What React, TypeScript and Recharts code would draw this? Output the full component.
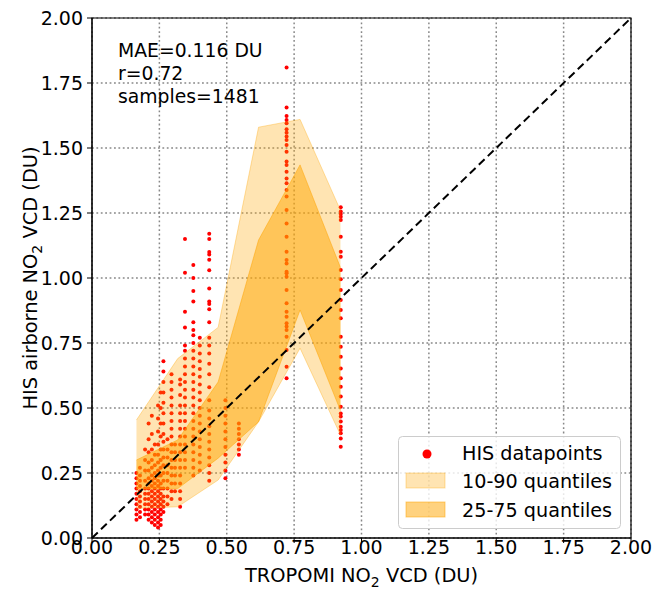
import React from "react";
import {
  ComposedChart,
  Scatter,
  Area,
  XAxis,
  YAxis,
  CartesianGrid,
  ReferenceLine,
  ReferenceArea,
  Label,
} from "recharts";

const FONT = "DejaVu Sans, sans-serif";

const axisTicks = [0, 0.25, 0.5, 0.75, 1, 1.25, 1.5, 1.75, 2];

// quantile bands, x = TROPOMI bin centre
const binX = [0.165, 0.318, 0.468, 0.618, 0.772, 0.922];
const q10 = [0.114, 0.12, 0.223, 0.447, 0.73, 0.396];
const q25 = [0.19, 0.19, 0.307, 0.447, 0.877, 0.49];
const q75 = [0.3, 0.377, 0.6, 1.146, 1.435, 1.04];
const q90 = [0.454, 0.69, 0.81, 1.58, 1.61, 1.26];

// HIS datapoints, grouped by TROPOMI pixel value (columns)
const columnX = [
  0.165, 0.178, 0.197, 0.21, 0.222, 0.233, 0.245, 0.255, 0.265, 0.28, 0.295, 0.308,
  0.327, 0.345, 0.376, 0.4, 0.435, 0.495, 0.545, 0.722, 0.923,
];
const columnY = [
  [0.07, 0.09, 0.11, 0.13, 0.15, 0.17, 0.19, 0.21, 0.23, 0.25],
  [0.08, 0.1, 0.12, 0.14, 0.16, 0.18, 0.2, 0.22, 0.24, 0.27],
  [0.09, 0.11, 0.13, 0.15, 0.17, 0.19, 0.22, 0.26, 0.3, 0.34],
  [0.07, 0.09, 0.11, 0.13, 0.15, 0.17, 0.19, 0.21, 0.23, 0.26, 0.29, 0.33, 0.38, 0.44],
  [0.06, 0.08, 0.1, 0.12, 0.14, 0.16, 0.18, 0.2, 0.22, 0.24, 0.27, 0.3, 0.34, 0.4, 0.47],
  [0.05, 0.07, 0.09, 0.11, 0.13, 0.15, 0.17, 0.19, 0.21, 0.23, 0.25, 0.28, 0.32, 0.36],
  [0.04, 0.06, 0.08, 0.1, 0.12, 0.14, 0.16, 0.18, 0.2, 0.22, 0.24, 0.26, 0.29, 0.32, 0.36, 0.41, 0.46, 0.51],
  [0.05, 0.07, 0.09, 0.11, 0.13, 0.15, 0.17, 0.19, 0.21, 0.24, 0.27, 0.3, 0.34, 0.39, 0.44, 0.5, 0.56],
  [0.1, 0.12, 0.14, 0.16, 0.19, 0.22, 0.25, 0.28, 0.31, 0.34, 0.37, 0.4, 0.44, 0.48, 0.52, 0.56, 0.6, 0.64, 0.68],
  [0.13, 0.16, 0.19, 0.22, 0.25, 0.28, 0.31, 0.34, 0.38],
  [0.15, 0.18, 0.21, 0.24, 0.27, 0.3, 0.33, 0.36, 0.39, 0.42, 0.45, 0.48, 0.51, 0.54, 0.57, 0.6, 0.63],
  [0.18, 0.21, 0.24, 0.27, 0.3, 0.33, 0.36],
  [0.12, 0.15, 0.18, 0.21, 0.24, 0.27, 0.3, 0.33, 0.36, 0.39, 0.42, 0.45, 0.48, 0.51, 0.55, 0.59, 0.61],
  [0.27, 0.3, 0.33, 0.36, 0.39, 0.42, 0.45, 0.48, 0.51, 0.54, 0.57, 0.6, 0.63, 0.66, 0.69, 0.72, 0.74, 0.81, 0.87, 1.02, 1.15],
  [0.24, 0.27, 0.3, 0.33, 0.36, 0.39, 0.42, 0.45, 0.48, 0.51, 0.54, 0.57, 0.6, 0.63, 0.66, 0.69, 0.72, 0.75, 0.78, 0.8, 0.83, 0.91, 0.95, 1.0, 1.05],
  [0.26, 0.29, 0.32, 0.35, 0.38, 0.41, 0.44, 0.47, 0.5, 0.53, 0.56, 0.59, 0.62, 0.65, 0.68, 0.71, 0.74, 0.77],
  [0.22, 0.25, 0.28, 0.31, 0.34, 0.37, 0.4, 0.43, 0.46, 0.49, 0.53, 0.58, 0.63, 0.67, 0.71, 0.74, 0.77, 0.83, 0.88, 0.9, 0.91, 0.96, 1.03, 1.07, 1.09, 1.1, 1.15, 1.17],
  [0.23, 0.26, 0.29, 0.32, 0.35, 0.38, 0.41, 0.44, 0.47, 0.5, 0.53],
  [0.32, 0.34, 0.36, 0.38, 0.4, 0.42, 0.44],
  [0.614, 0.659, 0.723, 0.774, 0.8, 0.813, 0.826, 0.851, 0.87, 0.903, 0.954, 1.005, 1.018, 1.024, 1.056, 1.069, 1.101, 1.159, 1.21, 1.262, 1.313, 1.338, 1.364, 1.383, 1.409, 1.435, 1.448, 1.486, 1.512, 1.531, 1.544, 1.559, 1.572, 1.595, 1.608, 1.623, 1.656, 1.81],
  [0.351, 0.383, 0.403, 0.415, 0.428, 0.448, 0.467, 0.479, 0.505, 0.544, 0.582, 0.614, 0.652, 0.697, 0.736, 0.774, 0.845, 0.877, 0.915, 0.954, 0.995, 1.031, 1.082, 1.101, 1.159, 1.223, 1.236, 1.246, 1.256, 1.272],
];

const statLines = ["MAE=0.116 DU", "r=0.72", "samples=1481"];

const hisPoints = columnX.flatMap((x, i) => columnY[i].map((y) => ({ x, y })));
const bandData = binX.map((x, i) => ({
  x,
  outer: [q10[i], q90[i]],
  inner: [q25[i], q75[i]],
}));

const XTitle = (props: any) => {
  const vb = props.viewBox;
  return (
    <text x={vb.x + vb.width / 2} y={582} textAnchor="middle" fontSize={19.4} fontFamily={FONT} fill="#000">
      TROPOMI NO<tspan dy={5} fontSize={14}>2</tspan>
      <tspan dy={-5}> VCD (DU)</tspan>
    </text>
  );
};

const YTitle = (props: any) => {
  const vb = props.viewBox;
  const cy = vb.y + vb.height / 2;
  return (
    <text x={37} y={cy} transform={`rotate(-90, 37, ${cy})`} textAnchor="middle" fontSize={19.4} fontFamily={FONT} fill="#000">
      HIS airborne NO<tspan dy={5} fontSize={14}>2</tspan>
      <tspan dy={-5}> VCD (DU)</tspan>
    </text>
  );
};

const Dot = (p: any) => <circle cx={p.cx} cy={p.cy} r={2} fill="#ff0000" />;

export default function App() {
  const tick = { fill: "#000", fontSize: 19, fontFamily: FONT };
  return (
    <div style={{ position: "absolute", left: 0, top: 0, width: 665, height: 594, background: "#fff" }}>
      <ComposedChart width={665} height={594} margin={{ top: 18, right: 34, bottom: 6, left: 32 }}>
        <CartesianGrid stroke="#888" strokeWidth={1.5} strokeDasharray="1.8 2.6" />
        <XAxis
          type="number"
          dataKey="x"
          domain={[0, 2]}
          ticks={axisTicks}
          tickFormatter={(v: number) => v.toFixed(2)}
          allowDataOverflow
          height={50}
          tick={tick}
          tickSize={5}
          tickMargin={-2}
          axisLine={{ stroke: "#000" }}
          tickLine={{ stroke: "#000" }}
        >
          <Label content={XTitle} />
        </XAxis>
        <YAxis
          type="number"
          domain={[0, 2]}
          ticks={axisTicks}
          tickFormatter={(v: number) => v.toFixed(2)}
          allowDataOverflow
          width={60}
          tick={tick}
          tickSize={5}
          tickMargin={4}
          axisLine={{ stroke: "#000" }}
          tickLine={{ stroke: "#000" }}
        >
          <Label content={YTitle} />
        </YAxis>
        <Scatter data={hisPoints} dataKey="y" fill="#ff0000" shape={Dot} isAnimationActive={false} zIndex={300} />
        <Area
          data={bandData}
          dataKey="outer"
          type="linear"
          fill="#ffa500"
          fillOpacity={0.3}
          stroke="#ffa500"
          strokeOpacity={0.35}
          dot={false}
          activeDot={false}
          isAnimationActive={false}
          zIndex={700}
        />
        <Area
          data={bandData}
          dataKey="inner"
          type="linear"
          fill="#ffa500"
          fillOpacity={0.5}
          stroke="#ffa500"
          strokeOpacity={0.5}
          dot={false}
          activeDot={false}
          isAnimationActive={false}
          zIndex={710}
        />
        <ReferenceLine
          segment={[{ x: 0, y: 0 }, { x: 2, y: 2 }]}
          stroke="#000"
          strokeWidth={2}
          strokeDasharray="8 4.5"
          zIndex={800}
        />
        <ReferenceArea x1={0} x2={2} y1={0} y2={2} fill="none" fillOpacity={0} stroke="#000" strokeWidth={1.2} zIndex={900} />
      </ComposedChart>
      <svg width={665} height={594} style={{ position: "absolute", left: 0, top: 0, pointerEvents: "none" }}>
        {statLines.map((s, i) => (
          <text key={s} x={118} y={57 + i * 23} fontSize={18.8} fontFamily={FONT} fill="#000">
            {s}
          </text>
        ))}
        <g fontFamily={FONT} fontSize={19.2} fill="#000">
          <rect x={398.5} y={436.5} width={222} height={92} rx={4} fill="#fff" fillOpacity={0.8} stroke="#cccccc" />
          <circle cx={427} cy={454} r={4.5} fill="#ff0000" />
          <text x={462} y={460}>HIS datapoints</text>
          <rect x={406} y={473} width={39} height={15} fill="#ffa500" fillOpacity={0.3} stroke="#ffa500" strokeOpacity={0.35} />
          <text x={462} y={488}>10-90 quantiles</text>
          <rect x={406} y={502} width={39} height={15} fill="#ffa500" fillOpacity={0.5} stroke="#ffa500" strokeOpacity={0.5} />
          <text x={462} y={517}>25-75 quantiles</text>
        </g>
      </svg>
    </div>
  );
}
